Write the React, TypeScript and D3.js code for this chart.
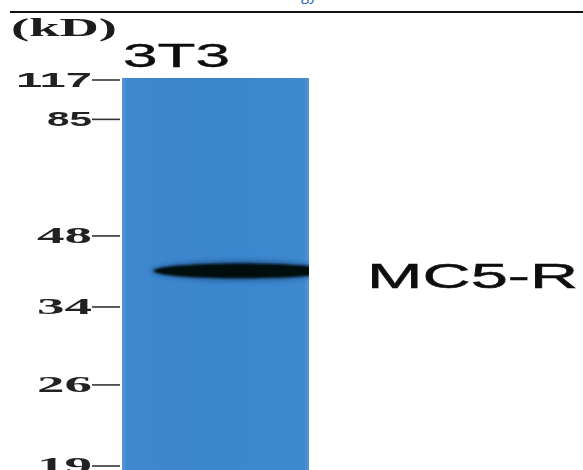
import React from "react";
import * as d3 from "d3";

// Molecular-weight markers (kD) and their relative migration down the lane (0 = top, 1 = bottom)
const markerKd = ["117", "85", "48", "34", "26", "19"];
const markerRf = [0, 0.102, 0.404, 0.588, 0.79, 1];
const markerSerif = [false, false, true, true, true, true];

// Lanes and bands
const lanes = ["3T3"];
const bandLabels = ["MC5-R"];
const bandRf = [0.497];
const bandStart = [0.17]; // fraction across lane where band begins

const W = 583;
const H = 470;

export default function App() {
  const y = d3.scaleLinear().domain([0, 1]).range([79, 465]);
  const x = d3.scaleBand().domain(lanes).range([122, 309]).padding(0);
  const laneTop = 78;
  const laneBottom = H;

  return (
    <svg
      width={W}
      height={H}
      viewBox={`0 0 ${W} ${H}`}
      style={{ position: "fixed", left: 0, top: 0, background: "#fff" }}
    >
      <defs>
        <linearGradient id="laneGrad" x1="0" x2="1" y1="0" y2="0">
          <stop offset="0" stopColor="#5296d6" />
          <stop offset="0.03" stopColor="#3e87ce" />
          <stop offset="0.5" stopColor="#3c86ce" />
          <stop offset="0.97" stopColor="#3d88cf" />
          <stop offset="1" stopColor="#5298d8" />
        </linearGradient>
        <filter id="blur2" x="-20%" y="-100%" width="140%" height="300%">
          <feGaussianBlur stdDeviation="2.2" />
        </filter>
        <filter id="blur1" x="-20%" y="-100%" width="140%" height="300%">
          <feGaussianBlur stdDeviation="1.3" />
        </filter>
        <filter id="soft" x="-5%" y="-20%" width="110%" height="140%">
          <feGaussianBlur stdDeviation="0.45" />
        </filter>
        <clipPath id="laneClip">
          <rect x={x("3T3")} y={laneTop} width={x.bandwidth()} height={laneBottom - laneTop} />
        </clipPath>
      </defs>

      {/* top cut-off header text and rule */}
      <text x={292} y={0} fontFamily="Open Sans, sans-serif" fontSize={15} fill="#2b5fb5">
        ogy
      </text>
      <line x1={10} x2={W} y1={12} y2={12} stroke="#111" strokeWidth={2.2} />

      <g filter="url(#soft)">
        {/* (kD) */}
        <text
          x={11}
          y={36}
          fontFamily="Liberation Serif, serif"
          fontWeight="bold"
          fontSize={26}
          fill="#1a1a1a"
          textLength={106}
          lengthAdjust="spacingAndGlyphs"
        >
          (kD)
        </text>

        {lanes.map((l) => (
          <text
            key={l}
            x={x(l)! + 1}
            y={67}
            fontFamily="Liberation Sans, Arial, sans-serif"
            fontSize={33}
            fill="#111"
            stroke="#111"
            strokeWidth={0.4}
            textLength={107}
            lengthAdjust="spacingAndGlyphs"
          >
            {l}
          </text>
        ))}

        {bandLabels.map((b, i) => (
          <text
            key={b}
            x={367}
            y={y(bandRf[i]) + 17}
            fontFamily="Liberation Sans, Arial, sans-serif"
            fontSize={35}
            fill="#111"
            stroke="#111"
            strokeWidth={0.5}
            textLength={211}
            lengthAdjust="spacingAndGlyphs"
          >
            {b}
          </text>
        ))}

        {/* markers */}
        {markerKd.map((m, i) => {
          const yy = y(markerRf[i]);
          const serif = markerSerif[i];
          const right = 92;
          const tl = m.length === 3 ? 76 : serif ? 55 : 45;
          return (
            <g key={m}>
              <text
                x={right}
                y={yy + 8}
                textAnchor="end"
                fontFamily={serif ? "Liberation Serif, serif" : "Liberation Sans, Arial, sans-serif"}
                fontWeight="bold"
                fontSize={serif ? 24 : 21}
                fill="#222"
                textLength={tl}
                lengthAdjust="spacingAndGlyphs"
              >
                {m}
              </text>
              <line x1={right} x2={120} y1={yy + 1} y2={yy + 1} stroke="#333" strokeWidth={1.6} />
            </g>
          );
        })}
      </g>

      {/* lanes */}
      {lanes.map((l) => (
        <rect
          key={l}
          x={x(l)}
          y={laneTop}
          width={x.bandwidth()}
          height={laneBottom - laneTop}
          fill="url(#laneGrad)"
        />
      ))}

      {/* bands */}
      <g clipPath="url(#laneClip)">
        {bandRf.map((rf, i) => {
          const x0 = x(lanes[i])!;
          const bw = x.bandwidth();
          const left = x0 + bw * bandStart[i];
          const right = x0 + bw + 20;
          const cx = (left + right) / 2;
          const rx = (right - left) / 2;
          return (
            <g key={i}>
              <ellipse cx={cx} cy={y(rf)} rx={rx + 4} ry={11} fill="#1d4f86" opacity={0.55} filter="url(#blur2)" />
              <ellipse cx={cx} cy={y(rf)} rx={rx} ry={7.5} fill="#060a10" filter="url(#blur1)" />
            </g>
          );
        })}
      </g>
    </svg>
  );
}
